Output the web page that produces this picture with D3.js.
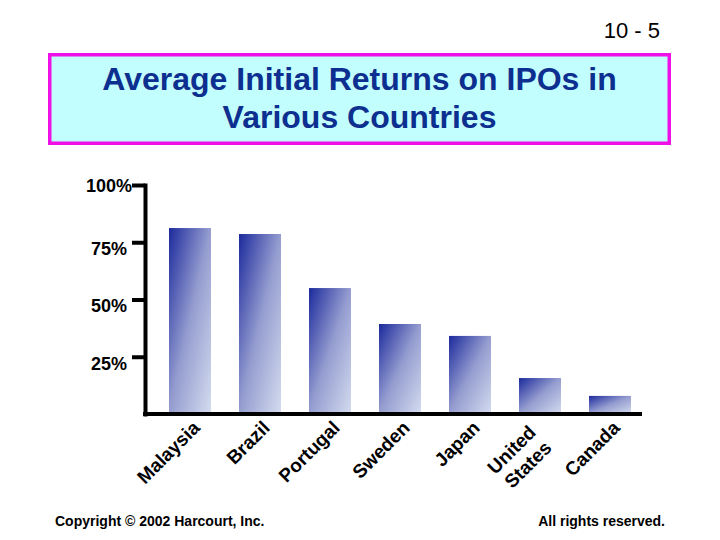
<!DOCTYPE html>
<html>
<head>
<meta charset="utf-8">
<script src="https://cdn.jsdelivr.net/npm/d3@7"></script>
<style>
  html, body { margin: 0; padding: 0; background: #fff; }
  svg { display: block; font-family: Arial, "Liberation Sans", sans-serif; }
</style>
</head>
<body>
<svg id="chart" width="720" height="540"></svg>
<script>
// ---- data ----
const countries = ["Malaysia", "Brazil", "Portugal", "Sweden", "Japan", "United\nStates", "Canada"];
const avgInitialReturn = [81.2, 78.6, 55.0, 39.3, 34.1, 15.7, 7.9];
const tickValues = [25, 50, 75, 100];
const tickLabels = ["25%", "50%", "75%", "100%"];
const titleLines = ["Average Initial Returns on IPOs in", "Various Countries"];
const slideNumber = "10 - 5";
const footerLeft = "Copyright \u00A9 2002 Harcourt, Inc.";
const footerRight = "All rights reserved.";

const svg = d3.select("#chart");

// gradient for bars
const defs = svg.append("defs");
const grad = defs.append("linearGradient")
  .attr("id", "barGrad")
  .attr("x1", 0).attr("y1", 0).attr("x2", 1).attr("y2", 1);
grad.append("stop").attr("offset", 0).attr("stop-color", "#1c2a9c");
grad.append("stop").attr("offset", 0.5).attr("stop-color", "#959dd0");
grad.append("stop").attr("offset", 1).attr("stop-color", "#d4dcef");

// slide number
svg.append("text")
  .attr("x", 660).attr("y", 38)
  .attr("text-anchor", "end")
  .attr("font-size", 22)
  .attr("fill", "#000")
  .text(slideNumber);

// title box
svg.append("rect")
  .attr("x", 49.75).attr("y", 54.75)
  .attr("width", 619.5).attr("height", 88.5)
  .attr("fill", "#c2fefe")
  .attr("stroke", "#ee10e6")
  .attr("stroke-width", 3.5);

svg.append("g").selectAll("text")
  .data(titleLines)
  .join("text")
  .attr("x", 359.5)
  .attr("y", (d, i) => 90 + i * 38)
  .attr("text-anchor", "middle")
  .attr("font-size", 32)
  .attr("font-weight", "bold")
  .attr("fill", "#0d2f8f")
  .text(d => d);

// scales
const axisX = 145;
const y = d3.scaleLinear().domain([0, 100]).range([414, 185]);
const x = d3.scaleBand()
  .domain(countries)
  .range([148, 652])
  .paddingInner(0.4)
  .paddingOuter(0.3);

// bars
svg.append("g").selectAll("rect")
  .data(countries)
  .join("rect")
  .attr("x", d => x(d))
  .attr("y", (d, i) => y(avgInitialReturn[i]))
  .attr("width", x.bandwidth())
  .attr("height", (d, i) => y(0) - y(avgInitialReturn[i]))
  .attr("fill", "url(#barGrad)");

// y axis
const yAxis = d3.axisLeft(y)
  .tickValues(tickValues)
  .tickFormat((d, i) => tickLabels[i])
  .tickSize(13)
  .tickSizeOuter(0);

const gy = svg.append("g")
  .attr("transform", `translate(${axisX},0)`)
  .call(yAxis);
gy.select(".domain")
  .attr("stroke", "#000")
  .attr("stroke-width", 4)
  .attr("stroke-linecap", "square");
gy.selectAll(".tick line")
  .attr("stroke", "#000")
  .attr("stroke-width", 4);
gy.selectAll(".tick text")
  .attr("font-family", "Arial, 'Liberation Sans', sans-serif")
  .attr("font-size", 18)
  .attr("font-weight", "bold")
  .attr("fill", "#000")
  .attr("x", d => d === 100 ? -13 : -18)
  .attr("dy", d => d === 100 ? "0.35em" : "0.68em");

// baseline
svg.append("line")
  .attr("x1", axisX - 2).attr("x2", 642)
  .attr("y1", y(0)).attr("y2", y(0))
  .attr("stroke", "#000")
  .attr("stroke-width", 4);

// category labels (rotated)
const lab = svg.append("g").selectAll("text")
  .data(countries)
  .join("text")
  .attr("transform", d => `translate(${x(d) + x.bandwidth() / 2 + 11},429) rotate(-45)`)
  .attr("text-anchor", "end")
  .attr("font-size", 19)
  .attr("font-weight", "bold")
  .attr("fill", "#000");

lab.each(function (d) {
  const lines = d.split("\n");
  const n = lines.length;
  d3.select(this).selectAll("tspan")
    .data(lines)
    .join("tspan")
    .attr("x", n > 1 ? -13 : 0)
    .attr("y", (l, i) => n > 1 ? (i - (n - 1) / 2) * 22 + 4.3 : 0)
    .text(l => l);
});

// footer
svg.append("text")
  .attr("x", 55).attr("y", 526)
  .attr("font-size", 14).attr("font-weight", "bold")
  .attr("fill", "#000")
  .text(footerLeft);
svg.append("text")
  .attr("x", 665).attr("y", 526)
  .attr("text-anchor", "end")
  .attr("font-size", 14).attr("font-weight", "bold")
  .attr("fill", "#000")
  .text(footerRight);
</script>
</body>
</html>
